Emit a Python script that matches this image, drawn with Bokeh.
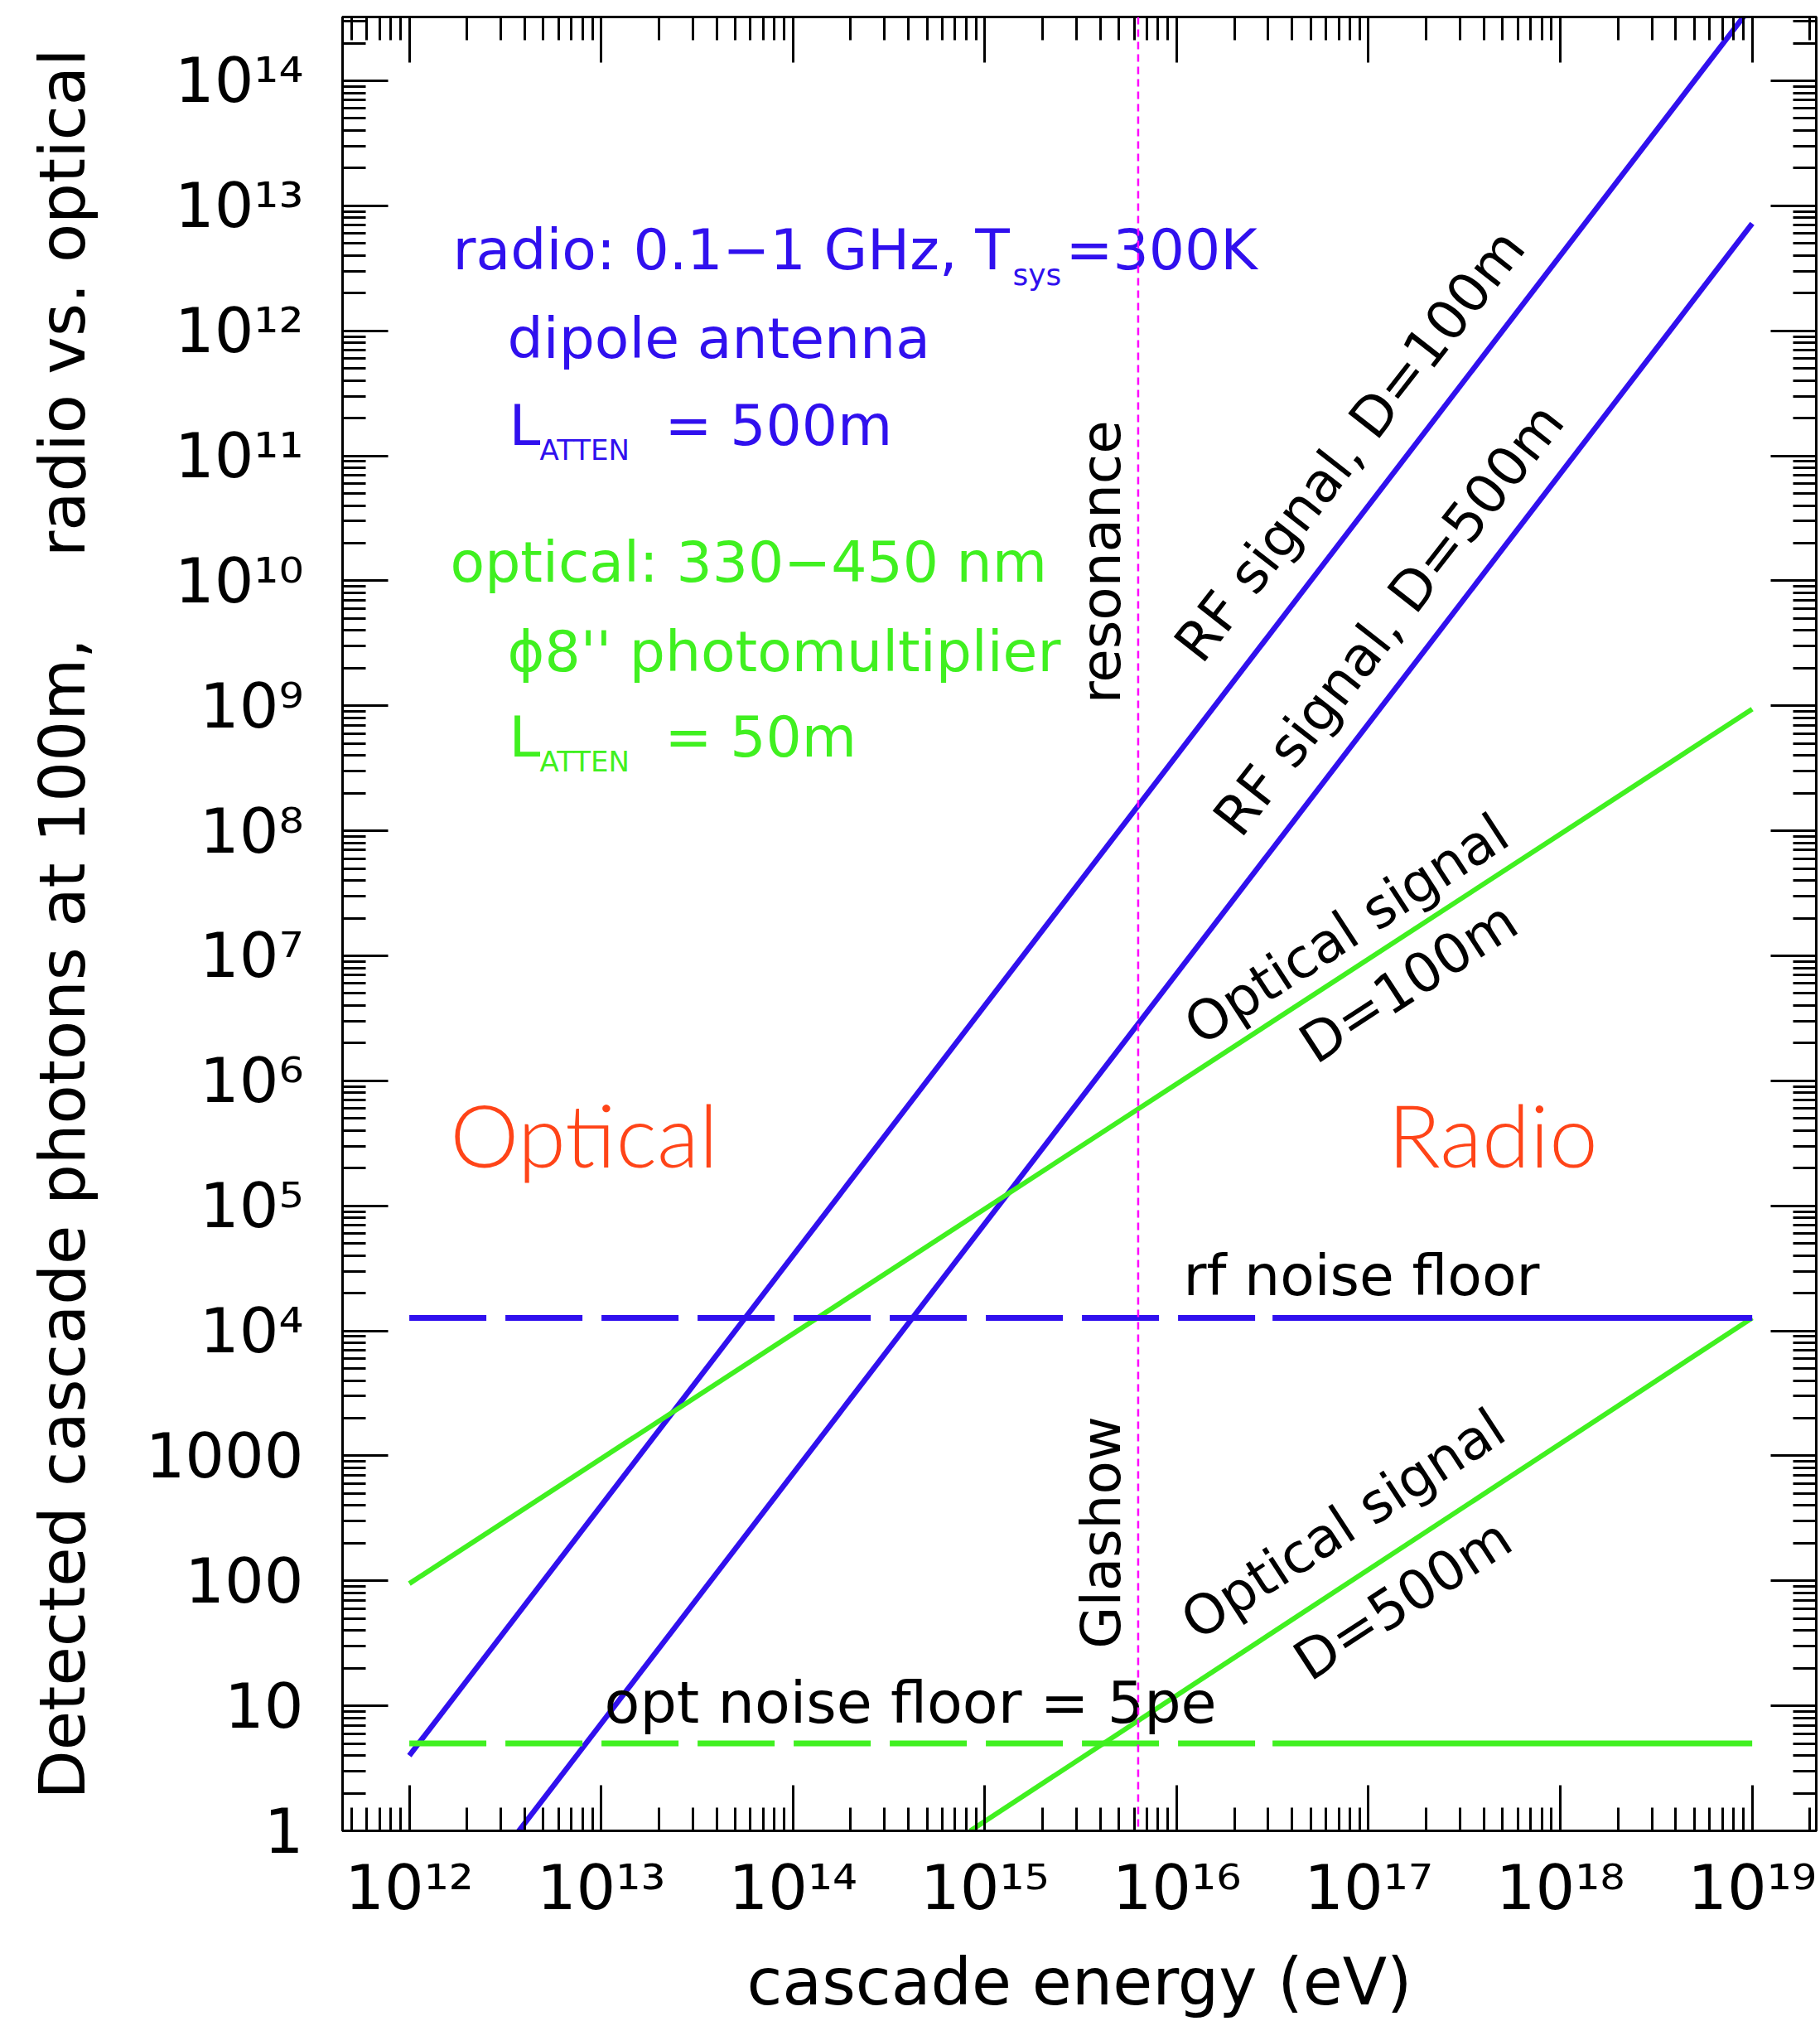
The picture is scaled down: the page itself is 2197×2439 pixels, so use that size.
import numpy as np
from bokeh.plotting import figure
from bokeh.models import Range1d, FixedTicker, LogAxis, Span, CustomJSTickFormatter
from bokeh.core.properties import value
from bokeh.embed import file_html
from bokeh.resources import INLINE

# ---------------- data ----------------
energy_ends = [1e12, 1e19]                 # eV
rf_signal_100m = [4.0, 4.0e14]             # photons
rf_signal_500m = [0.072, 7.2e12]
opt_signal_100m = [95.0, 9.4e8]
opt500_energy = [8.4e14, 1e19]
opt_signal_500m = [1.0, 1.27e4]
rf_noise_floor = 1.27e4
opt_noise_floor = 5.0
noise_dash_end = 3.16e16                   # noise-floor lines turn solid here
glashow_energy = 6.3e15

x_ticks = [1e12, 1e13, 1e14, 1e15, 1e16, 1e17, 1e18, 1e19]
x_tick_labels = ["10¹²", "10¹³", "10¹⁴", "10¹⁵", "10¹⁶", "10¹⁷", "10¹⁸", "10¹⁹"]
y_ticks = [1e0, 1e1, 1e2, 1e3, 1e4, 1e5, 1e6, 1e7, 1e8, 1e9, 1e10, 1e11, 1e12, 1e13, 1e14]
y_tick_labels = ["1", "10", "100", "1000", "10⁴", "10⁵", "10⁶", "10⁷", "10⁸", "10⁹",
                 "10¹⁰", "10¹¹", "10¹²", "10¹³", "10¹⁴"]

# ---------------- styling ----------------
BLUE = "#3010EE"
GREEN = "#40F020"
ORANGE = "#FF4418"
MAGENTA = "#FF00FF"
FONT = "DejaVu Sans"
BIG_FONT = "'Lato Light', Lato"

p = figure(width=2197, height=2439, x_axis_type="log", y_axis_type="log",
           x_range=Range1d(10 ** 11.652, 10 ** 19.334),
           y_range=Range1d(1.0, 10 ** 14.51),
           output_backend="svg", toolbar_location=None,
           min_border_left=413, min_border_right=5, min_border_top=20, min_border_bottom=230)
p.background_fill_color = "white"
p.border_fill_color = "white"
p.outline_line_color = "black"
p.outline_line_width = 3
p.xgrid.visible = False
p.ygrid.visible = False

minor_x = [k * 10.0 ** n for n in range(11, 20) for k in range(2, 10)]
minor_y = [k * 10.0 ** n for n in range(0, 15) for k in range(2, 10)]
xt = FixedTicker(ticks=x_ticks, minor_ticks=minor_x)
yt = FixedTicker(ticks=y_ticks, minor_ticks=minor_y)


def style_axis(ax):
    ax.axis_line_color = "black"
    ax.axis_line_width = 3
    ax.major_tick_in = 55
    ax.major_tick_out = 0
    ax.minor_tick_in = 28
    ax.minor_tick_out = 0
    ax.major_tick_line_width = 3
    ax.minor_tick_line_width = 3
    ax.major_tick_line_color = "black"
    ax.minor_tick_line_color = "black"


xa = p.xaxis[0]
ya = p.yaxis[0]
xa.ticker = xt
ya.ticker = yt
style_axis(xa)
style_axis(ya)
xa.major_label_overrides = {float(v): s for v, s in zip(x_ticks, x_tick_labels)}
ya.major_label_overrides = {float(v): s for v, s in zip(y_ticks, y_tick_labels)}
for ax in (xa, ya):
    ax.major_label_text_font = FONT
    ax.major_label_text_font_size = "75px"
    ax.major_label_text_color = "black"
    ax.axis_label_text_font = FONT
    ax.axis_label_text_font_style = "normal"
    ax.axis_label_text_color = "black"
xa.major_label_standoff = 24
ya.major_label_standoff = 47
xa.axis_label = "cascade energy (eV)"
xa.axis_label_text_font_size = "78px"
xa.axis_label_standoff = 22
ya.axis_label = "Detected cascade photons at 100m,\u00a0\u00a0\u00a0 radio vs. optical"
ya.axis_label_text_font_size = "77px"
ya.axis_label_standoff = 53

blank = CustomJSTickFormatter(code="return ''")
top = LogAxis(ticker=xt, formatter=blank, major_label_standoff=0,
              major_label_text_font_size="1px")
right = LogAxis(ticker=yt, formatter=blank, major_label_standoff=0,
                major_label_text_font_size="1px")
style_axis(top)
style_axis(right)
p.add_layout(top, "above")
p.add_layout(right, "right")

# ---------------- lines ----------------
p.line(energy_ends, rf_signal_100m, line_color=BLUE, line_width=6.5)
p.line(energy_ends, rf_signal_500m, line_color=BLUE, line_width=6.5)
p.line(energy_ends, opt_signal_100m, line_color=GREEN, line_width=6)
p.line(opt500_energy, opt_signal_500m, line_color=GREEN, line_width=6)

for level, col in ((rf_noise_floor, BLUE), (opt_noise_floor, GREEN)):
    p.line([energy_ends[0], noise_dash_end], [level, level], line_color=col,
           line_width=7, line_dash="93 23")
    p.line([noise_dash_end, energy_ends[1]], [level, level], line_color=col, line_width=7)

p.add_layout(Span(location=glashow_energy, dimension="height", line_color=MAGENTA,
                  line_width=2.5, line_dash="9 6"))

# ---------------- annotations (positions as log10 data coords) ----------------
notes = [
    (12.2267, 12.645, "radio: 0.1−1 GHz, T", 68, BLUE, 0, "left", FONT),
    (15.1455, 12.446, "sys", 36, BLUE, 0, "left", FONT),
    (15.4218, 12.645, "=300K", 68, BLUE, 0, "left", FONT),
    (12.5117, 11.936, "dipole antenna", 68, BLUE, 0, "left", FONT),
    (12.5203, 11.240, "L", 68, BLUE, 0, "left", FONT),
    (12.680, 11.048, "ATTEN", 34, BLUE, 0, "left", FONT),
    (13.332, 11.240, "= 500m", 68, BLUE, 0, "left", FONT),
    (12.2137, 10.146, "optical: 330−450 nm", 68, GREEN, 0, "left", FONT),
    (12.5117, 9.431, "ϕ8'' photomultiplier", 68, GREEN, 0, "left", FONT),
    (12.5203, 8.748, "L", 68, GREEN, 0, "left", FONT),
    (12.680, 8.556, "ATTEN", 34, GREEN, 0, "left", FONT),
    (13.332, 8.748, "= 50m", 68, GREEN, 0, "left", FONT),
    (15.6075, 10.1498, "resonance", 66, "black", 90, "center", FONT),
    (15.6075, 2.3863, "Glashow", 66, "black", 90, "center", FONT),
    (16.9028, 11.0808, "RF signal, D=100m", 66, "black", 52, "center", FONT),
    (17.1058, 9.6892, "RF signal, D=500m", 66, "black", 52, "center", FONT),
    (16.8856, 7.2107, "Optical signal", 66, "black", 33.1, "center", FONT),
    (17.209, 6.787, "D=100m", 66, "black", 33.1, "center", FONT),
    (16.868, 2.4526, "Optical signal", 66, "black", 33.1, "center", FONT),
    (17.179, 1.8496, "D=500m", 66, "black", 33.1, "center", FONT),
    (16.035, 4.4407, "rf noise floor", 68, "black", 0, "left", FONT),
    (13.0168, 1.0212, "opt noise floor = 5pe", 70, "black", 0, "left", FONT),
    (12.212, 5.575, "Optical", 105, ORANGE, 0, "left", BIG_FONT),
    (17.10, 5.575, "Radio", 105, ORANGE, 0, "left", BIG_FONT),
]
for lx, ly, txt, size, col, ang, align, font in notes:
    p.text(x=[10 ** lx], y=[10 ** ly], text=[txt], angle=np.deg2rad(ang),
           text_font=value(font), text_font_size=f"{size}px", text_color=col,
           text_align=align, text_baseline="middle")

open("out.html", "w").write(file_html(p, INLINE))
